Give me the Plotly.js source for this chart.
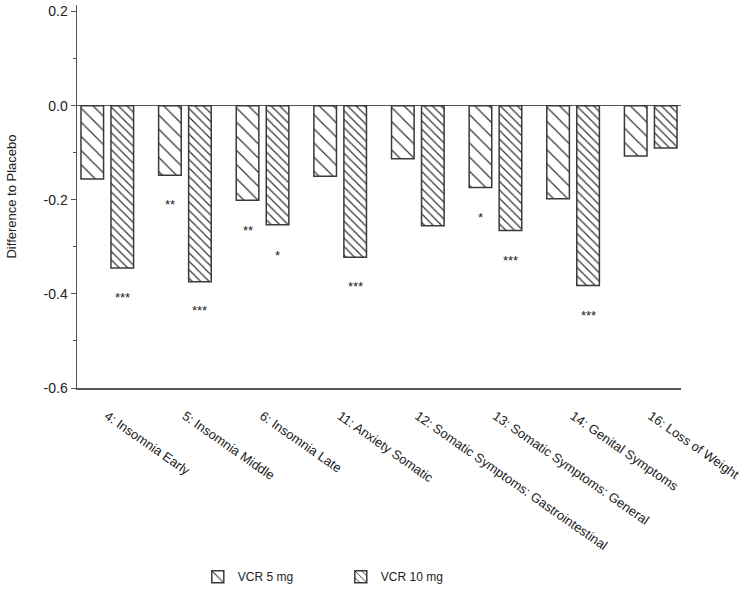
<!DOCTYPE html>
<html>
<head>
<meta charset="utf-8">
<script src="https://cdn.plot.ly/plotly-3.0.1.min.js"></script>
<style>
  body { margin: 0; background: #fff; }
  #chart { width: 752px; height: 592px; }
</style>
</head>
<body>
<div id="chart"></div>
<script>
// data
const items = [
  '4: Insomnia Early',
  '5: Insomnia Middle',
  '6: Insomnia Late',
  '11: Anxiety Somatic',
  '12: Somatic Symptoms: Gastrointestinal',
  '13: Somatic Symptoms: General',
  '14: Genital Symptoms',
  '16: Loss of Weight'
]
const vcr5 = [-0.156, -0.148, -0.201, -0.150, -0.113, -0.174, -0.198, -0.107]
const vcr10 = [-0.345, -0.374, -0.253, -0.322, -0.255, -0.265, -0.382, -0.090]

// significance stars and where they sit (value axis)
const stars5 = ['', '**', '**', '', '', '*', '', '']
const starsY5 = [0, -0.210, -0.265, 0, 0, -0.238, 0, 0]
const stars10 = ['***', '***', '*', '***', '', '***', '***', '']
const starsY10 = [-0.407, -0.435, -0.318, -0.384, 0, -0.328, -0.446, 0]

const yTicks = [0.2, 0.0, -0.2, -0.4, -0.6]
const yTickText = ['0.2', '0.0', '-0.2', '-0.4', '-0.6']

const axisColor = '#555'
const barLine = { color: '#3a3a3a', width: 1.5 }

const chart = () => {
  const trace = [
    {
      name: 'VCR 5 mg',
      x: items,
      y: vcr5,
      type: 'bar',
      marker: {
        color: 'white',
        line: barLine,
        pattern: { shape: '\\', size: 10, solidity: 0.12, fgcolor: '#333', bgcolor: 'white' }
      },
      hoverinfo: 'none'
    },
    {
      name: 'VCR 10 mg',
      x: items,
      y: vcr10,
      type: 'bar',
      marker: {
        color: 'white',
        line: barLine,
        pattern: { shape: '\\', size: 6, solidity: 0.2, fgcolor: '#333', bgcolor: 'white' }
      },
      hoverinfo: 'none'
    }
  ]

  const annotations = []
  items.forEach((c, i) => {
    if (stars5[i]) annotations.push({ x: c, y: starsY5[i], text: stars5[i], xshift: -15, showarrow: false, font: { size: 13, color: '#222' } })
    if (stars10[i]) annotations.push({ x: c, y: starsY10[i], text: stars10[i], xshift: 15, showarrow: false, font: { size: 13, color: '#222' } })
  })

  const layout = {
    width: 752,
    height: 592,
    margin: { l: 77, r: 71, t: 5, b: 204, autoexpand: false },
    paper_bgcolor: 'white',
    plot_bgcolor: 'white',
    font: { family: 'Liberation Sans, Arial, sans-serif', color: '#222' },
    barmode: 'group',
    bargap: 0.227,
    bargroupgap: 0.247,
    showlegend: true,
    legend: {
      orientation: 'h',
      x: 0.2, xanchor: 'left',
      y: -0.455, yanchor: 'top',
      font: { size: 12 },
      entrywidth: 98
    },
    xaxis: {
      type: 'category',
      range: [-0.39, 7.39],
      showline: true,
      linecolor: axisColor,
      linewidth: 1.5,
      ticks: '',
      tickangle: 35,
      ticklabelstandoff: 14,
      tickfont: { size: 13 },
      showgrid: false,
      zeroline: false
    },
    yaxis: {
      range: [-0.6, 0.214],
      tickvals: yTicks,
      ticktext: yTickText,
      ticks: 'outside',
      ticklen: 5,
      tickcolor: axisColor,
      tickfont: { size: 14 },
      minor: { dtick: 0.1, ticks: 'outside', ticklen: 3, tickcolor: axisColor, showgrid: false },
      showline: true,
      linecolor: axisColor,
      linewidth: 1.5,
      showgrid: false,
      zeroline: true,
      zerolinecolor: axisColor,
      zerolinewidth: 1.5,
      title: { text: 'Difference to Placebo', font: { size: 13 }, standoff: 24 }
    },
    annotations: annotations
  }

  Plotly.newPlot('chart', trace, layout, { displayModeBar: false, staticPlot: true })
}

chart()
</script>
</body>
</html>
